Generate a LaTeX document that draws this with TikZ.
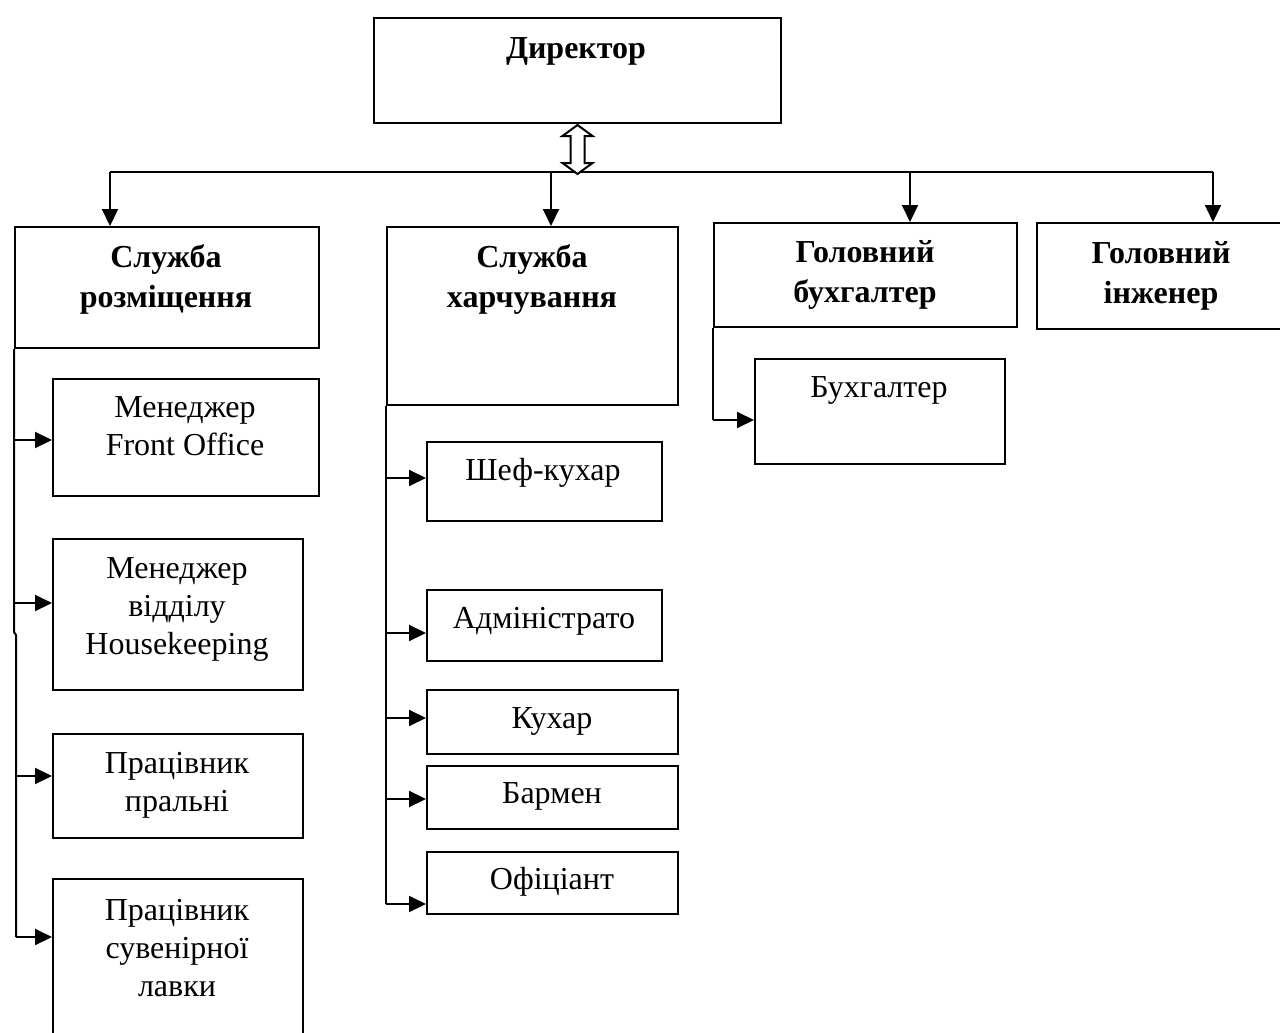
\documentclass[tikz,border=0pt]{standalone}
\usepackage{fontspec}
\setmainfont{Liberation Serif}
\usetikzlibrary{arrows.meta}

\tikzset{
  box/.style={draw, line width=2pt, anchor=north west, inner sep=0pt},
  sz/.style 2 args={minimum width=#1pt, minimum height=#2pt},
  txt/.style={font=\fontsize{32}{38}\selectfont, align=center, inner sep=0pt},
  head/.style={font=\fontsize{32}{40}\selectfont\bfseries, align=center, inner sep=0pt},
  link/.style={line width=2pt},
  arr/.style={line width=2pt, -{Triangle[length=17pt, width=16pt]}},
}

\begin{document}
\begin{tikzpicture}[x=1pt, y=-1pt]
  \useasboundingbox (0,0) rectangle (1280,1033);

  % top level
  \node[box, sz={407}{105}] (dir) at (373,17) {};
  \node[head] (dir-t) at (576,51) {Директор};

  \node[box, sz={304}{121}] (razm) at (14,226) {};
  \node[head] (razm-t) at (166,279) {Служба\\розміщення};
  \node[box, sz={291}{178}] (harch) at (386,226) {};
  \node[head] (harch-t) at (532,279) {Служба\\харчування};
  \node[box, sz={303}{104}] (glbuh) at (713,222) {};
  \node[head] (glbuh-t) at (865,275) {Головний\\бухгалтер};
  \node[box, sz={260}{106}] (ingh) at (1036,222) {};
  \node[head] (ingh-t) at (1161,276) {Головний\\інженер};

  % accommodation staff
  \node[box, sz={266}{117}] (fo) at (52,378) {};
  \node[txt] (fo-t) at (185,426) {Менеджер\\Front Office};
  \node[box, sz={250}{151}] (hk) at (52,538) {};
  \node[txt] (hk-t) at (177,609) {Менеджер\\відділу\\Housekeeping};
  \node[box, sz={250}{104}] (pr) at (52,733) {};
  \node[txt] (pr-t) at (177,785) {Працівник\\пральні};
  \node[box, sz={250}{170}] (sv) at (52,878) {};
  \node[txt] (sv-t) at (177,948) {Працівник\\сувенірної\\лавки};

  % catering staff
  \node[box, sz={235}{79}] (shef) at (426,441) {};
  \node[txt] (shef-t) at (543,473) {Шеф-кухар};
  \node[box, sz={235}{71}] (adm) at (426,589) {};
  \node[txt] (adm-t) at (544,621) {Адміністрато};
  \node[box, sz={251}{64}] (kuh) at (426,689) {};
  \node[txt] (kuh-t) at (552,721) {Кухар};
  \node[box, sz={251}{63}] (barm) at (426,765) {};
  \node[txt] (barm-t) at (552,796) {Бармен};
  \node[box, sz={251}{62}] (ofic) at (426,851) {};
  \node[txt] (ofic-t) at (552,882) {Офіціант};

  % accounting
  \node[box, sz={250}{105}] (buhg) at (754,358) {};
  \node[txt] (buhg-t) at (879,390) {Бухгалтер};

  % bus from the director
  \coordinate (b1) at (110,172);
  \coordinate (b2) at (551,172);
  \coordinate (b3) at (910,172);
  \coordinate (b4) at (1213,172);
  \draw[link] (b1) -- (b4);
  \draw[arr] (b1) -- (b1 |- razm.north);
  \draw[arr] (b2) -- (b2 |- harch.north);
  \draw[arr] (b3) -- (b3 |- glbuh.north);
  \draw[arr] (b4) -- (b4 |- ingh.north);
  \draw[line width=2pt, fill=white] (dir.south) ++(0,1) -- ++(15,11) -- ++(-8,0)
    -- ++(0,27) -- ++(8,0) -- ++(-15,11) -- ++(-15,-11) -- ++(8,0) -- ++(0,-27)
    -- ++(-8,0) -- cycle;

  % left spine
  \draw[link] (razm.south west) -- (14,632) -- (16,635) -- (16,937);
  \foreach \n/\y/\x in {fo/440/14, hk/603/14, pr/776/16, sv/937/16}
    \draw[arr] (\x,\y) -- (\n.west |- 0,\y);

  % middle spine
  \draw[link] (harch.south west) -- (386,904);
  \foreach \n/\y in {shef/478, adm/633, kuh/718, barm/799, ofic/904}
    \draw[arr] (386,\y) -- (\n.west |- 0,\y);

  % accounting spine
  \draw[link] (glbuh.south west) -- (713,420);
  \draw[arr] (713,420) -- (buhg.west |- 0,420);
\end{tikzpicture}
\end{document}
